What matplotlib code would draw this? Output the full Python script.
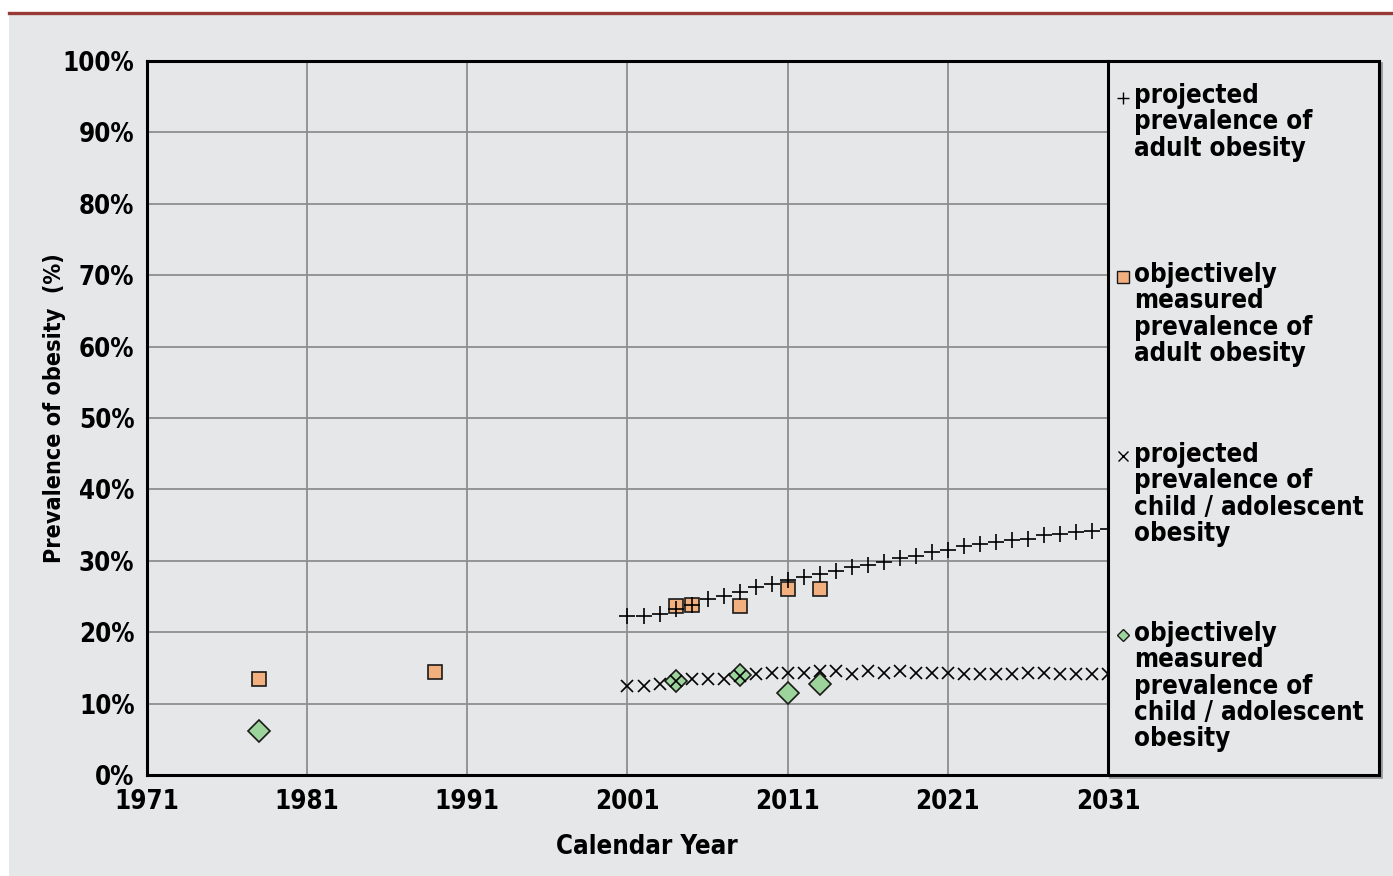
import matplotlib
matplotlib.use("Agg")
import matplotlib.pyplot as plt
from matplotlib.patches import Rectangle
from matplotlib.lines import Line2D
from matplotlib import font_manager as fm

# ---------------- data ----------------
proj_years = list(range(2001, 2032))
adult_projected = [22.3, 22.3, 22.6, 23.3, 23.8, 24.6, 25.1, 25.7, 26.3, 26.7,
                   27.3, 27.7, 28.1, 28.6, 29.1, 29.4, 29.9, 30.4, 30.7, 31.3,
                   31.5, 32.1, 32.4, 32.7, 32.9, 33.1, 33.6, 33.7, 34.0, 34.2, 34.5]
child_projected = [12.4, 12.5, 12.8, 13.2, 13.4, 13.4, 13.4, 13.9, 14.1, 14.3,
                   14.3, 14.3, 14.5, 14.6, 14.2, 14.5, 14.3, 14.6, 14.3, 14.3,
                   14.3, 14.2, 14.2, 14.2, 14.2, 14.3, 14.3, 14.2, 14.2, 14.2, 14.2]
adult_meas_years = [1978, 1989, 2004, 2005, 2008, 2011, 2013]
adult_measured = [13.5, 14.4, 23.6, 23.8, 23.6, 26.0, 26.0]
child_meas_years = [1978, 2004, 2008, 2011, 2013]
child_measured = [6.2, 13.2, 14.0, 11.5, 12.8]

x_ticks = [1971, 1981, 1991, 2001, 2011, 2021, 2031]
y_ticks = [0, 10, 20, 30, 40, 50, 60, 70, 80, 90, 100]
y_tick_labels = [f"{v}%" for v in y_ticks]

legend_labels = [
    "projected\nprevalence of\nadult obesity",
    "objectively\nmeasured\nprevalence of\nadult obesity",
    "projected\nprevalence of\nchild / adolescent\nobesity",
    "objectively\nmeasured\nprevalence of\nchild / adolescent\nobesity",
]

# ---------------- font selection (condensed bold if available) ----------------
def pick_font():
    fl = fm.fontManager.ttflist
    for f in fl:
        if f.name == "Liberation Sans Narrow" and f.weight in (700, "bold") and f.style == "normal":
            return f.fname, 1.0
    for f in fl:
        if "DejaVuSansCondensed-Bold.ttf" in f.fname:
            return f.fname, 0.845
    for f in fl:
        n = f.fname.lower()
        if ("condensed" in n or "narrow" in n) and "bold" in n and "italic" not in n and "oblique" not in n:
            return f.fname, 0.85
    return None, 0.78

FONT_PATH, SCALE = pick_font()
FS = 22 * SCALE

def fp(size=FS):
    if FONT_PATH:
        return fm.FontProperties(fname=FONT_PATH, size=size)
    return fm.FontProperties(family="DejaVu Sans", weight="bold", size=size)

# ---------------- style ----------------
W, H = 1393, 876
BG = "#e6e7e9"
ORANGE = "#f2b07f"
GREEN = "#9cd49c"
EDGE = "#1a1a1a"

def fx(x):
    return x / W

def fy(y):
    return 1 - y / H

fig = plt.figure(figsize=(W / 100, H / 100), dpi=100, facecolor="white")

# gray panel and red top rule
fig.patches.append(Rectangle((fx(9), 0), 1 - fx(9), fy(13), transform=fig.transFigure,
                             facecolor=BG, edgecolor="none", zorder=-10))
fig.lines.append(Line2D([fx(9), 1], [fy(12.5), fy(12.5)], transform=fig.transFigure,
                        color="#983a35", lw=2.4, zorder=-5))

L, R, T, B = 147, 1108, 61, 775
ax = fig.add_axes([fx(L), fy(B), fx(R - L), (B - T) / H])
ax.set_facecolor(BG)
ax.set_xlim(1971, 2031)
ax.set_ylim(0, 100)
ax.set_xticks(x_ticks)
ax.set_yticks(y_ticks)
ax.set_xticklabels([str(v) for v in x_ticks], fontproperties=fp())
ax.set_yticklabels(y_tick_labels, fontproperties=fp())
ax.tick_params(axis="both", length=0)
ax.tick_params(axis="x", pad=10)
ax.tick_params(axis="y", pad=9)
ax.grid(True, color="#8e8e8e", lw=1.3)
ax.set_axisbelow(True)
for s in ["left", "bottom", "top"]:
    ax.spines[s].set_linewidth(2.2)
    ax.spines[s].set_color("black")
ax.spines["right"].set_visible(False)

# data
ax.plot(adult_meas_years, adult_measured, linestyle="none", marker="s", ms=9.6,
        mfc=ORANGE, mec=EDGE, mew=1.2, zorder=3, clip_on=False)
ax.plot(child_meas_years, child_measured, linestyle="none", marker="D", ms=11,
        mfc=GREEN, mec=EDGE, mew=1.2, zorder=3, clip_on=False)
ax.plot(proj_years, adult_projected, linestyle="none", marker="+", ms=11,
        mec="black", mew=1.2, zorder=4, clip_on=False)
ax.plot(proj_years, child_projected, linestyle="none", marker="x", ms=8.5,
        mec="black", mew=1.2, zorder=4, clip_on=False)

# legend box
LR, LB = 1379, 775
fig.patches.append(Rectangle((fx(R + 2), fy(LB + 2)), fx(LR - R), (LB - T) / H,
                             transform=fig.transFigure, facecolor="none",
                             edgecolor="#9a9a9a", lw=2.0, zorder=5))
fig.patches.append(Rectangle((fx(R), fy(LB)), fx(LR - R), (LB - T) / H,
                             transform=fig.transFigure, facecolor=BG,
                             edgecolor="black", lw=2.2, zorder=6))

baselines = [103, 282, 462, 641]
marker_y = [98, 277, 456, 635]
line_gap = 26.3
marker_specs = [
    dict(marker="+", ms=8, mec="black", mew=1.0),
    dict(marker="s", ms=8, mfc=ORANGE, mec=EDGE, mew=1.0),
    dict(marker="x", ms=6.5, mec="black", mew=1.0),
    dict(marker="D", ms=6.5, mfc=GREEN, mec=EDGE, mew=1.0),
]
for lab, bl, my, spec in zip(legend_labels, baselines, marker_y, marker_specs):
    fig.lines.append(Line2D([fx(1123)], [fy(my)], transform=fig.transFigure,
                            linestyle="none", zorder=8, **spec))
    for i, line in enumerate(lab.split("\n")):
        fig.text(fx(1134), fy(bl + i * line_gap), line, ha="left", va="baseline",
                 fontproperties=fp(), zorder=8)

# axis titles
fig.text(fx(55), fy(408), "Prevalence of obesity  (%)", rotation=90, ha="center",
         va="center", fontproperties=fp(FS * 0.9))
fig.text(fx(647), fy(847), "Calendar Year", ha="center", va="center",
         fontproperties=fp())

fig.savefig("out.png", dpi=100, facecolor="white")
